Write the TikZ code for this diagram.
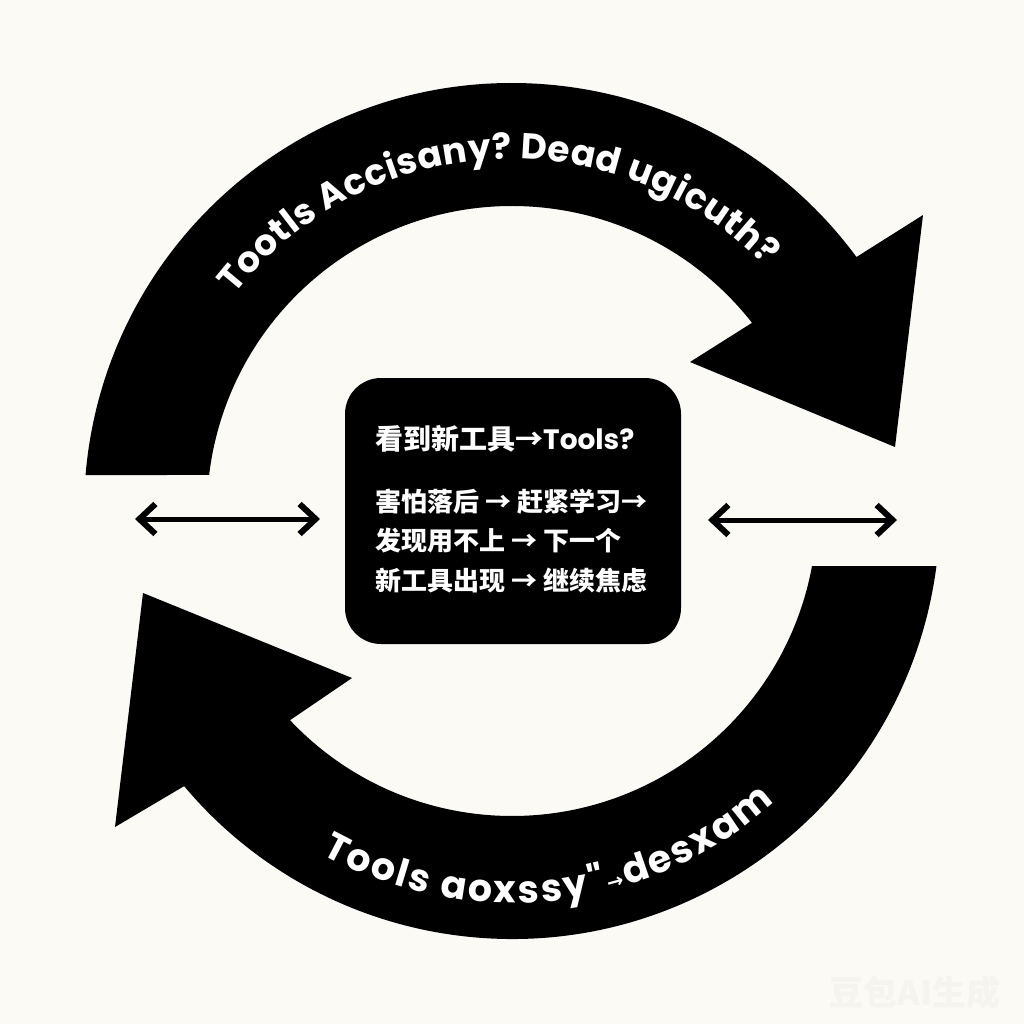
\documentclass[tikz,border=0pt]{standalone}
\usepackage{fontspec}
\usetikzlibrary{calc,arrows.meta,decorations.text}
\newfontfamily\pop{Poppins}
\newfontfamily\cjk{Noto Sans CJK SC}
\newfontfamily\dv{DejaVu Sans}
\definecolor{bg}{RGB}{251,250,245}
\definecolor{wmc}{RGB}{246,244,238}
\newcommand\curvefont{\pop\bfseries\fontsize{36pt}{36pt}\selectfont}
\newcommand\curvefontb{\pop\bfseries\fontsize{38pt}{38pt}\selectfont}
\newcommand\arrowfontx{\dv\bfseries\fontsize{20pt}{20pt}\selectfont}
\tikzset{
  ring/.style={fill=black},
  box/.style={fill=black, rounded corners=36pt, minimum width=336pt, minimum height=266pt, inner sep=0pt},
  boxtxt/.style={text=white, anchor=west, inner sep=0pt},
  big/.style={font=\cjk\bfseries\fontsize{28pt}{28pt}\selectfont},
  small/.style={font=\cjk\bfseries\fontsize{26pt}{26pt}\selectfont},
  dblarrow/.style={line width=5pt, >={Straight Barb[length=16pt,width=30pt,line width=6pt]}, <->},
}
\begin{document}
\begin{tikzpicture}[x=1pt,y=-1pt]
\fill[bg] (0,0) rectangle (1024,1024);
\useasboundingbox (0,0) rectangle (1024,1024);
\coordinate (C) at (512,511);
% top arrow
\fill[ring] ($(C)+(175.2:428pt)$) arc[start angle=175.2,end angle=36.4,radius=428pt]
  -- (923,215) -- (895,447) -- (690,362)
  -- ($(C)+(38.1:305pt)$) arc[start angle=38.1,end angle=173.2,radius=305pt] -- cycle;
% bottom arrow
\fill[ring] ($(C)+(-7.4:428pt)$) arc[start angle=-7.4,end angle=-140,radius=428pt]
  -- (115,827) -- (143,593) -- (352,678)
  -- ($(C)+(-136.7:305pt)$) arc[start angle=-136.7,end angle=-10.4,radius=305pt] -- cycle;
% curved texts
\path[decorate, decoration={text along path, text={|\curvefont|Tootls Accisany? Dead ugicuth?}, text color=white, text align={fit to path}}]
  ($(C)+(142:352pt)$) arc[start angle=142,end angle=44,radius=352pt];
\path[decorate, decoration={text along path, text={|\curvefontb|Tools aoxssy"|\arrowfontx|→|\curvefontb|desxam}, text color=white, text align={fit to path}}]
  ($(C)+(-119:392pt)$) arc[start angle=-119,end angle=-48,radius=392pt];
% central box
\node[box] (box) at (513,511) {};
\node[boxtxt, big] (l1) at (375,439) {看到新工具→{\pop\bfseries Tools?}};
\node[boxtxt, small] (l2) at (375,502) {害怕落后 → 赶紧学习→};
\node[boxtxt, small] (l3) at (375,541) {发现用不上 → 下一个};
\node[boxtxt, small] (l4) at (375,580) {新工具出现 → 继续焦虑};
% double arrows
\coordinate (la1) at (135,519); \coordinate (la2) at (320,519);
\coordinate (ra1) at (708,520); \coordinate (ra2) at (897,520);
\draw[dblarrow] (la1) -- (la2);
\draw[dblarrow] (ra1) -- (ra2);
% watermark
\node[text=wmc, font=\cjk\bfseries\fontsize{34pt}{34pt}\selectfont, inner sep=0pt] (wm) at (915,993) {豆包AI生成};
\end{tikzpicture}
\end{document}
